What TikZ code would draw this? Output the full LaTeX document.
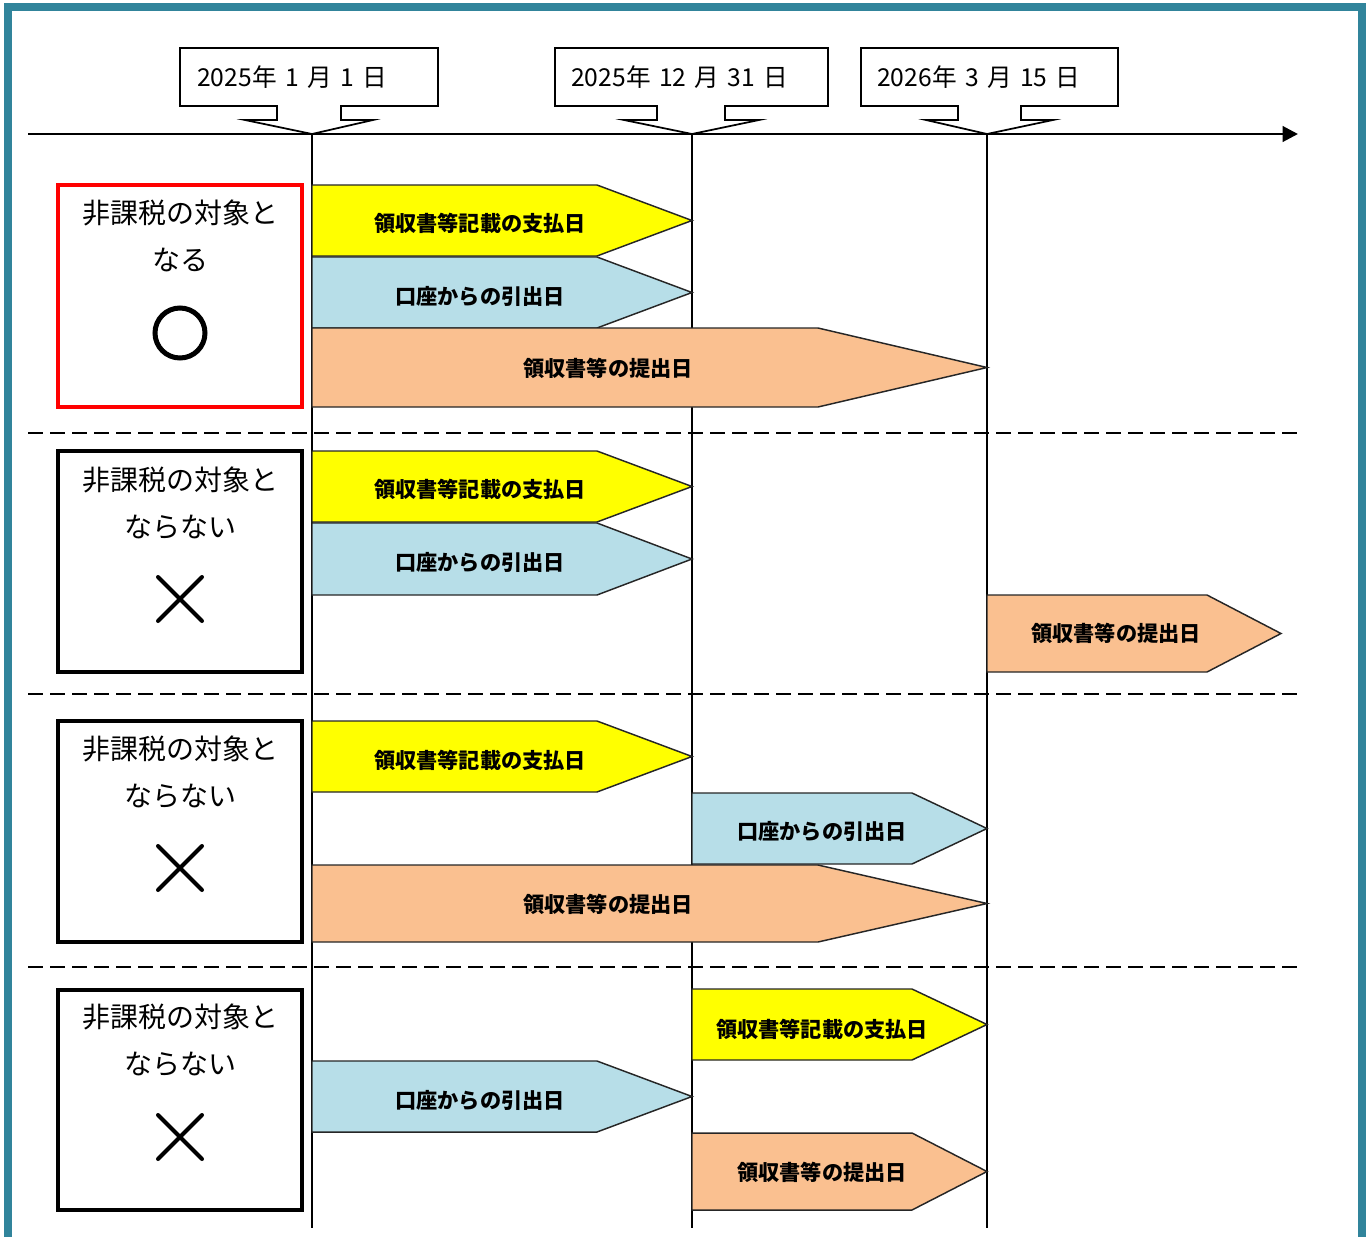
\documentclass[tikz,border=0pt]{standalone}
\usepackage{fontspec}
\newfontfamily\jp{Noto Sans CJK JP}
\usetikzlibrary{arrows.meta}
\definecolor{framecol}{HTML}{31849B}
\definecolor{yel}{HTML}{FFFF00}
\definecolor{blu}{HTML}{B7DEE8}
\definecolor{org}{HTML}{FAC090}
\definecolor{redbox}{HTML}{FF0000}
\newcommand\pentarrow[7]{% name, x1, shoulder, tip, ytop, ybot, colour
  \draw[arrowshape, fill=#7] (#2,#5) -- (#3,#5) -- (#4,{(#5+#6)/2}) -- (#3,#6) -- (#2,#6) -- cycle;
}
\newcommand\dsp{\hspace{0.34em}}
\begin{document}
\begin{tikzpicture}[x=0.75pt,y=-0.75pt,
  datebox/.style={draw=black, line width=1.3pt, fill=white, line join=miter},
  datetext/.style={font=\jp\fontsize{18.5pt}{20pt}\selectfont, anchor=west, inner sep=0pt},
  arrowshape/.style={draw=black!85, line width=1.1pt, line join=miter},
  arrowtext/.style={font=\jp\bfseries\fontsize{15.9pt}{18pt}\selectfont, inner sep=0pt},
  casebox/.style={draw=black, line width=2.6pt},
  casetext/.style={font=\jp\fontsize{21pt}{24pt}\selectfont, inner sep=0pt},
  vline/.style={draw=black, line width=1.5pt},
  sepline/.style={draw=black, line width=1.5pt, dash pattern=on 11.25pt off 5.25pt},
  crossmark/.style={draw=black, line width=3pt, line cap=round},
]
\useasboundingbox (0,0) rectangle (1371,1236);
% frame
\begin{scope}
\clip (0,0) rectangle (1371,1236);
\draw[framecol, line width=6pt] (8,1300) -- (8,7) -- (1362,7) -- (1362,1300);
\end{scope}

% vertical date lines
\coordinate (t1) at (312,134); \coordinate (b1) at (312,1228);
\coordinate (t2) at (692,134); \coordinate (b2) at (692,1228);
\coordinate (t3) at (987,134); \coordinate (b3) at (987,1228);
\draw[vline] (t1) -- (b1);
\draw[vline] (t2) -- (b2);
\draw[vline] (t3) -- (b3);

% timeline
\coordinate (tlstart) at (28,134);
\coordinate (tlend) at (1298,134);
\draw[line width=2.2pt, -{Triangle[length=11.5pt,width=11.5pt]}] (tlstart) -- (tlend);

% date callouts
\draw[datebox] (180,48) -- (438,48) -- (438,106) -- (341,106) -- (341,120) -- (373,120) -- (t1) -- (245,120) -- (277,120) -- (277,106) -- (180,106) -- cycle;
\node[datetext] (d1) at (197,77) {2025年\dsp 1\dsp 月\dsp 1\dsp 日};
\draw[datebox] (555,48) -- (828,48) -- (828,106) -- (725,106) -- (725,120) -- (759,120) -- (t2) -- (624,120) -- (657,120) -- (657,106) -- (555,106) -- cycle;
\node[datetext] (d2) at (571,77) {2025年\dsp 12\dsp 月\dsp 31\dsp 日};
\draw[datebox] (861,48) -- (1118,48) -- (1118,106) -- (1021,106) -- (1021,120) -- (1053,120) -- (t3) -- (926,120) -- (958,120) -- (958,106) -- (861,106) -- cycle;
\node[datetext] (d3) at (877,77) {2026年\dsp 3\dsp 月\dsp 15\dsp 日};

% separators
\coordinate (s1a) at (28,433); \coordinate (s1b) at (1298,433);
\coordinate (s2a) at (28,694); \coordinate (s2b) at (1298,694);
\coordinate (s3a) at (28,967); \coordinate (s3b) at (1298,967);
\draw[sepline] (s1a) -- (s1b);
\draw[sepline] (s2a) -- (s2b);
\draw[sepline] (s3a) -- (s3b);

% case boxes
\draw[casebox, draw=redbox] (58,185) rectangle (302,407);
\node[casetext] (c1a) at (180,213) {非課税の対象と};
\node[casetext] (c1b) at (180,260) {なる};
\draw[line width=3.75pt] (180,333) circle[radius=25];

\draw[casebox] (58,451) rectangle (302,672);
\node[casetext] (c2a) at (180,480) {非課税の対象と};
\node[casetext] (c2b) at (180,527) {ならない};
\draw[crossmark] (158,577) -- (202,621) (202,577) -- (158,621);

\draw[casebox] (58,721) rectangle (302,942);
\node[casetext] (c3a) at (180,749) {非課税の対象と};
\node[casetext] (c3b) at (180,796) {ならない};
\draw[crossmark] (158,846) -- (202,890) (202,846) -- (158,890);

\draw[casebox] (58,990) rectangle (302,1210);
\node[casetext] (c4a) at (180,1017) {非課税の対象と};
\node[casetext] (c4b) at (180,1064) {ならない};
\draw[crossmark] (158,1115) -- (202,1159) (202,1115) -- (158,1159);

% section 1
\pentarrow{a11}{312}{597}{692}{185}{256}{yel}
\node[arrowtext] (l11) at (480,223) {領収書等記載の支払日};
\pentarrow{a12}{312}{597}{692}{257}{328}{blu}
\node[arrowtext] (l12) at (480,296) {口座からの引出日};
\pentarrow{a13}{312}{818}{987}{328}{407}{org}
\node[arrowtext] (l13) at (608,368) {領収書等の提出日};

% section 2
\pentarrow{a21}{312}{597}{692}{451}{522}{yel}
\node[arrowtext] (l21) at (480,489) {領収書等記載の支払日};
\pentarrow{a22}{312}{597}{692}{523}{595}{blu}
\node[arrowtext] (l22) at (480,562) {口座からの引出日};
\pentarrow{a23}{987}{1207}{1281}{595}{672}{org}
\node[arrowtext] (l23) at (1116,633) {領収書等の提出日};

% section 3
\pentarrow{a31}{312}{597}{692}{721}{792}{yel}
\node[arrowtext] (l31) at (480,760) {領収書等記載の支払日};
\pentarrow{a32}{692}{912}{987}{793}{864}{blu}
\node[arrowtext] (l32) at (822,831) {口座からの引出日};
\pentarrow{a33}{312}{818}{987}{865}{942}{org}
\node[arrowtext] (l33) at (608,904) {領収書等の提出日};

% section 4
\pentarrow{a41}{692}{912}{987}{989}{1060}{yel}
\node[arrowtext] (l41) at (822,1029) {領収書等記載の支払日};
\pentarrow{a42}{312}{597}{692}{1061}{1132}{blu}
\node[arrowtext] (l42) at (480,1100) {口座からの引出日};
\pentarrow{a43}{692}{912}{987}{1133}{1210}{org}
\node[arrowtext] (l43) at (822,1172) {領収書等の提出日};
\end{tikzpicture}
\end{document}
